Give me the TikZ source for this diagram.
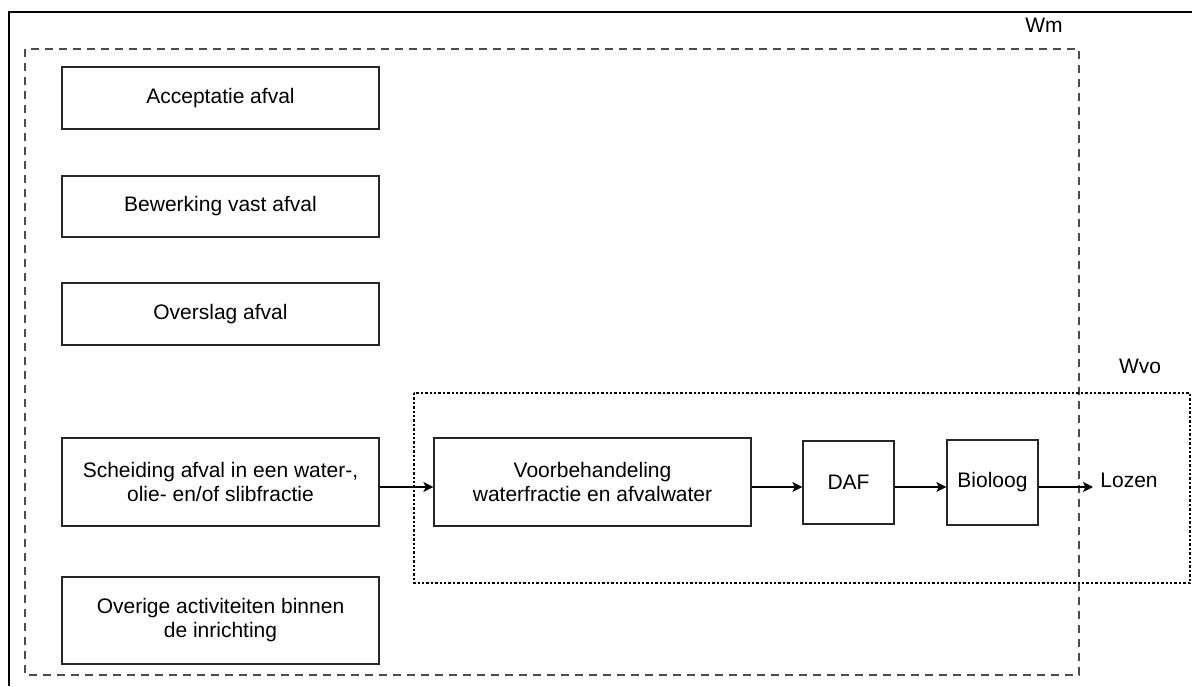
\documentclass[tikz,border=0pt]{standalone}
\usepackage{fontspec}
\setmainfont{Liberation Sans}
\usetikzlibrary{arrows.meta}
\begin{document}
\begin{tikzpicture}[x=0.5pt,y=-0.5pt,
  box/.style={draw=black!85, line width=0.65pt, fill=white, align=center, inner sep=0pt,
    font=\fontsize{10.5}{12}\selectfont},
  lbl/.style={inner sep=0pt, font=\fontsize{10.5}{12}\selectfont},
  arr/.style={-{Stealth[length=5pt,width=5pt,inset=1.2pt]}, line width=0.6pt},
  wmbox/.style={draw=black!70, line width=0.7pt, dash pattern=on 4pt off 3pt},
  wvobox/.style={draw=black, line width=0.6pt, dash pattern=on 1.2pt off 1pt}]
\useasboundingbox (0,0) rectangle (1192,686);
% outer frame
\draw[line width=0.6pt] (9,686) -- (9,12) -- (1192,12);
% Wm dashed region
\draw[wmbox] (25,49) rectangle (1079,675);
\node[lbl] (wm) at (1044,25) {Wm};
% Wvo dotted region
\draw[wvobox] (414,393) rectangle (1190,583);
\node[lbl] (wvo) at (1140,366) {Wvo};
% left boxes
\node[box, minimum width=158.5pt, minimum height=31pt] (acc) at (220.5,98) {Acceptatie afval};
\node[box, minimum width=158.5pt, minimum height=30.5pt] (bew) at (220.5,206.5) {Bewerking vast afval};
\node[box, minimum width=158.5pt, minimum height=31pt] (ovs) at (220.5,314) {Overslag afval};
\node[box, minimum width=158.5pt, minimum height=44pt] (sch) at (220.5,482) {Scheiding afval in een water-,\\olie- en/of slibfractie};
\node[box, minimum width=158.5pt, minimum height=43.5pt] (ovr) at (220.5,620.5) {Overige activiteiten binnen\\de inrichting};
% chain
\node[box, minimum width=158.5pt, minimum height=44pt] (voor) at (592.5,482) {Voorbehandeling\\waterfractie en afvalwater};
\node[box, minimum width=45.5pt, minimum height=41.5pt] (daf) at (848.5,482.5) {DAF};
\node[box, minimum width=45.5pt, minimum height=42.5pt] (bio) at (992.5,482.5) {Bioloog};
\node[lbl, anchor=west] (loz) at (1100,480) {Lozen};
% connectors
\draw[arr] ([yshift=-2.5pt]sch.east) -- ([yshift=-2.5pt]voor.west);
\draw[arr] ([yshift=-2.5pt]voor.east) -- ([yshift=-2.25pt]daf.west);
\draw[arr] ([yshift=-2.25pt]daf.east) -- ([yshift=-2.25pt]bio.west);
\draw[arr] ([yshift=-2.25pt]bio.east) -- ([xshift=-3.5pt,yshift=-3.5pt]loz.west);
\end{tikzpicture}
\end{document}
